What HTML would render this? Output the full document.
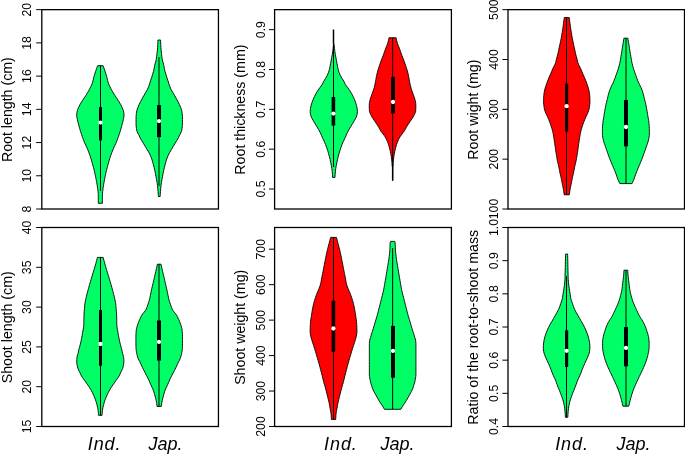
<!DOCTYPE html>
<html lang="en"><head><meta charset="utf-8"><title>Violin plots</title>
<style>
html,body{margin:0;padding:0;background:#fff;}
body{width:685px;height:456px;overflow:hidden;}
svg{display:block;will-change:transform;}
text{font-family:"Liberation Sans",sans-serif;fill:#000;}
.tk{font-size:12.3px;text-anchor:middle;}
.lb{font-size:14.2px;text-anchor:middle;}
.xl{font-size:18px;font-style:italic;text-anchor:start;}
.fr{fill:none;stroke:#000;stroke-width:1.3;}
.ln{stroke:#000;stroke-width:1.3;fill:none;}
.tl{stroke:#000;stroke-width:1;fill:none;}
.vi{stroke:#000;stroke-width:0.9;stroke-linejoin:miter;}
.wh{stroke:#000;stroke-width:1;}
.wh2{stroke:#000;stroke-width:1.5;}
.bx{fill:#000;}
.md{fill:#fff;}
</style></head><body>
<svg width="685" height="456" viewBox="0 0 685 456">
<rect x="0" y="0" width="685" height="456" fill="#fff"/>
<rect class="fr" x="41.80" y="9.65" width="176.65" height="199.35"/>
<line class="tl" x1="36.20" y1="209.00" x2="41.80" y2="209.00"/>
<text class="tk" transform="translate(30.70 209.00) rotate(-90)">8</text>
<line class="tl" x1="36.20" y1="175.78" x2="41.80" y2="175.78"/>
<text class="tk" transform="translate(30.70 175.78) rotate(-90)">10</text>
<line class="tl" x1="36.20" y1="142.55" x2="41.80" y2="142.55"/>
<text class="tk" transform="translate(30.70 142.55) rotate(-90)">12</text>
<line class="tl" x1="36.20" y1="109.33" x2="41.80" y2="109.33"/>
<text class="tk" transform="translate(30.70 109.33) rotate(-90)">14</text>
<line class="tl" x1="36.20" y1="76.10" x2="41.80" y2="76.10"/>
<text class="tk" transform="translate(30.70 76.10) rotate(-90)">16</text>
<line class="tl" x1="36.20" y1="42.88" x2="41.80" y2="42.88"/>
<text class="tk" transform="translate(30.70 42.88) rotate(-90)">18</text>
<line class="tl" x1="36.20" y1="9.65" x2="41.80" y2="9.65"/>
<text class="tk" transform="translate(30.70 9.65) rotate(-90)">20</text>
<text class="lb" transform="translate(12.10 109.62) rotate(-90)">Root length (cm)</text>
<rect class="fr" x="274.60" y="9.65" width="176.80" height="199.35"/>
<line class="tl" x1="269.00" y1="189.01" x2="274.60" y2="189.01"/>
<text class="tk" transform="translate(264.90 189.01) rotate(-90)">0.5</text>
<line class="tl" x1="269.00" y1="149.17" x2="274.60" y2="149.17"/>
<text class="tk" transform="translate(264.90 149.17) rotate(-90)">0.6</text>
<line class="tl" x1="269.00" y1="109.33" x2="274.60" y2="109.33"/>
<text class="tk" transform="translate(264.90 109.33) rotate(-90)">0.7</text>
<line class="tl" x1="269.00" y1="69.49" x2="274.60" y2="69.49"/>
<text class="tk" transform="translate(264.90 69.49) rotate(-90)">0.8</text>
<line class="tl" x1="269.00" y1="29.65" x2="274.60" y2="29.65"/>
<text class="tk" transform="translate(264.90 29.65) rotate(-90)">0.9</text>
<text class="lb" transform="translate(244.95 109.62) rotate(-90)">Root thickness (mm)</text>
<rect class="fr" x="508.00" y="9.65" width="176.50" height="199.35"/>
<line class="tl" x1="502.40" y1="209.00" x2="508.00" y2="209.00"/>
<text class="tk" transform="translate(497.60 209.00) rotate(-90)">100</text>
<line class="tl" x1="502.40" y1="159.16" x2="508.00" y2="159.16"/>
<text class="tk" transform="translate(497.60 159.16) rotate(-90)">200</text>
<line class="tl" x1="502.40" y1="109.33" x2="508.00" y2="109.33"/>
<text class="tk" transform="translate(497.60 109.33) rotate(-90)">300</text>
<line class="tl" x1="502.40" y1="59.49" x2="508.00" y2="59.49"/>
<text class="tk" transform="translate(497.60 59.49) rotate(-90)">400</text>
<line class="tl" x1="502.40" y1="9.65" x2="508.00" y2="9.65"/>
<text class="tk" transform="translate(497.60 9.65) rotate(-90)">500</text>
<text class="lb" transform="translate(478.00 109.62) rotate(-90)">Root wight (mg)</text>
<rect class="fr" x="41.80" y="227.50" width="176.65" height="199.00"/>
<line class="tl" x1="36.20" y1="426.50" x2="41.80" y2="426.50"/>
<text class="tk" transform="translate(30.70 426.50) rotate(-90)">15</text>
<line class="tl" x1="36.20" y1="386.70" x2="41.80" y2="386.70"/>
<text class="tk" transform="translate(30.70 386.70) rotate(-90)">20</text>
<line class="tl" x1="36.20" y1="346.90" x2="41.80" y2="346.90"/>
<text class="tk" transform="translate(30.70 346.90) rotate(-90)">25</text>
<line class="tl" x1="36.20" y1="307.10" x2="41.80" y2="307.10"/>
<text class="tk" transform="translate(30.70 307.10) rotate(-90)">30</text>
<line class="tl" x1="36.20" y1="267.30" x2="41.80" y2="267.30"/>
<text class="tk" transform="translate(30.70 267.30) rotate(-90)">35</text>
<line class="tl" x1="36.20" y1="227.50" x2="41.80" y2="227.50"/>
<text class="tk" transform="translate(30.70 227.50) rotate(-90)">40</text>
<text class="lb" transform="translate(12.10 327.30) rotate(-90)">Shoot length (cm)</text>
<rect class="fr" x="274.60" y="227.50" width="176.80" height="199.00"/>
<line class="tl" x1="269.00" y1="426.50" x2="274.60" y2="426.50"/>
<text class="tk" transform="translate(264.90 426.50) rotate(-90)">200</text>
<line class="tl" x1="269.00" y1="391.04" x2="274.60" y2="391.04"/>
<text class="tk" transform="translate(264.90 391.04) rotate(-90)">300</text>
<line class="tl" x1="269.00" y1="355.58" x2="274.60" y2="355.58"/>
<text class="tk" transform="translate(264.90 355.58) rotate(-90)">400</text>
<line class="tl" x1="269.00" y1="320.12" x2="274.60" y2="320.12"/>
<text class="tk" transform="translate(264.90 320.12) rotate(-90)">500</text>
<line class="tl" x1="269.00" y1="284.66" x2="274.60" y2="284.66"/>
<text class="tk" transform="translate(264.90 284.66) rotate(-90)">600</text>
<line class="tl" x1="269.00" y1="249.20" x2="274.60" y2="249.20"/>
<text class="tk" transform="translate(264.90 249.20) rotate(-90)">700</text>
<text class="lb" transform="translate(244.95 327.30) rotate(-90)">Shoot weight (mg)</text>
<rect class="fr" x="508.00" y="227.50" width="176.50" height="199.00"/>
<line class="tl" x1="502.40" y1="426.50" x2="508.00" y2="426.50"/>
<text class="tk" transform="translate(497.60 426.50) rotate(-90)">0.4</text>
<line class="tl" x1="502.40" y1="393.33" x2="508.00" y2="393.33"/>
<text class="tk" transform="translate(497.60 393.33) rotate(-90)">0.5</text>
<line class="tl" x1="502.40" y1="360.17" x2="508.00" y2="360.17"/>
<text class="tk" transform="translate(497.60 360.17) rotate(-90)">0.6</text>
<line class="tl" x1="502.40" y1="327.00" x2="508.00" y2="327.00"/>
<text class="tk" transform="translate(497.60 327.00) rotate(-90)">0.7</text>
<line class="tl" x1="502.40" y1="293.83" x2="508.00" y2="293.83"/>
<text class="tk" transform="translate(497.60 293.83) rotate(-90)">0.8</text>
<line class="tl" x1="502.40" y1="260.67" x2="508.00" y2="260.67"/>
<text class="tk" transform="translate(497.60 260.67) rotate(-90)">0.9</text>
<line class="tl" x1="502.40" y1="227.50" x2="508.00" y2="227.50"/>
<text class="tk" transform="translate(497.60 227.50) rotate(-90)">1.0</text>
<text class="lb" transform="translate(478.00 327.30) rotate(-90)">Ratio of the root-to-shoot mass</text>
<path class="vi" fill="#00ff66" d="M97.65 65.70 L97.08 67.20 L96.53 68.70 L96.01 70.20 L95.50 71.70 L95.01 73.20 L94.55 74.70 L94.10 76.20 L93.69 77.70 L93.35 79.20 L93.01 80.70 L92.63 82.20 L92.13 83.70 L91.49 85.20 L90.76 86.70 L90.00 88.20 L89.23 89.70 L88.41 91.20 L87.55 92.70 L86.65 94.20 L85.69 95.70 L84.66 97.20 L83.63 98.70 L82.66 100.20 L81.71 101.70 L80.79 103.20 L79.93 104.70 L79.15 106.20 L78.47 107.70 L77.86 109.20 L77.33 110.70 L76.98 112.20 L76.72 113.70 L76.66 115.20 L76.82 116.70 L77.11 118.20 L77.41 119.70 L77.74 121.20 L78.11 122.70 L78.51 124.20 L78.91 125.70 L79.31 127.20 L79.73 128.70 L80.17 130.20 L80.63 131.70 L81.12 133.20 L81.62 134.70 L82.15 136.20 L82.67 137.70 L83.20 139.20 L83.76 140.70 L84.35 142.20 L85.01 143.70 L85.74 145.20 L86.46 146.70 L87.13 148.20 L87.74 149.70 L88.33 151.20 L88.91 152.70 L89.48 154.20 L90.05 155.70 L90.54 157.20 L90.99 158.70 L91.42 160.20 L91.85 161.70 L92.28 163.20 L92.71 164.70 L93.13 166.20 L93.53 167.70 L93.92 169.20 L94.29 170.70 L94.65 172.20 L94.98 173.70 L95.29 175.20 L95.59 176.70 L95.88 178.20 L96.17 179.70 L96.46 181.20 L96.74 182.70 L97.00 184.20 L97.24 185.70 L97.46 187.20 L97.66 188.70 L97.85 190.20 L98.05 191.70 L98.21 193.20 L98.26 194.70 L98.27 196.20 L98.28 197.70 L98.29 199.20 L98.30 200.70 L98.30 202.20 L98.30 203.30 L102.40 203.30 L102.40 202.20 L102.40 200.70 L102.41 199.20 L102.42 197.70 L102.43 196.20 L102.44 194.70 L102.49 193.20 L102.65 191.70 L102.85 190.20 L103.04 188.70 L103.24 187.20 L103.46 185.70 L103.70 184.20 L103.96 182.70 L104.24 181.20 L104.53 179.70 L104.82 178.20 L105.11 176.70 L105.41 175.20 L105.72 173.70 L106.05 172.20 L106.41 170.70 L106.78 169.20 L107.17 167.70 L107.57 166.20 L107.99 164.70 L108.42 163.20 L108.85 161.70 L109.28 160.20 L109.71 158.70 L110.16 157.20 L110.65 155.70 L111.22 154.20 L111.79 152.70 L112.37 151.20 L112.96 149.70 L113.57 148.20 L114.24 146.70 L114.96 145.20 L115.69 143.70 L116.35 142.20 L116.94 140.70 L117.50 139.20 L118.03 137.70 L118.55 136.20 L119.08 134.70 L119.58 133.20 L120.07 131.70 L120.53 130.20 L120.97 128.70 L121.39 127.20 L121.79 125.70 L122.19 124.20 L122.59 122.70 L122.96 121.20 L123.29 119.70 L123.59 118.20 L123.88 116.70 L124.04 115.20 L123.98 113.70 L123.72 112.20 L123.37 110.70 L122.84 109.20 L122.23 107.70 L121.55 106.20 L120.77 104.70 L119.91 103.20 L118.99 101.70 L118.04 100.20 L117.07 98.70 L116.04 97.20 L115.01 95.70 L114.05 94.20 L113.15 92.70 L112.29 91.20 L111.47 89.70 L110.70 88.20 L109.94 86.70 L109.21 85.20 L108.57 83.70 L108.07 82.20 L107.69 80.70 L107.35 79.20 L107.01 77.70 L106.60 76.20 L106.15 74.70 L105.69 73.20 L105.20 71.70 L104.69 70.20 L104.17 68.70 L103.62 67.20 L103.05 65.70Z"/>
<line class="wh" x1="100.50" y1="65.70" x2="100.50" y2="191.00"/>
<rect class="bx" x="99.00" y="107.20" width="3.00" height="33.20"/>
<circle class="md" cx="100.50" cy="122.60" r="2.15"/>
<path class="vi" fill="#00ff66" d="M157.95 40.00 L157.91 41.50 L157.85 43.00 L157.77 44.50 L157.69 46.00 L157.59 47.50 L157.48 49.00 L157.33 50.50 L157.17 52.00 L157.01 53.50 L156.85 55.00 L156.68 56.50 L156.47 58.00 L156.22 59.50 L155.85 61.00 L155.42 62.50 L155.02 64.00 L154.69 65.50 L154.40 67.00 L154.11 68.50 L153.80 70.00 L153.43 71.50 L153.01 73.00 L152.57 74.50 L152.12 76.00 L151.63 77.50 L151.12 79.00 L150.60 80.50 L150.13 82.00 L149.71 83.50 L149.21 85.00 L148.64 86.50 L148.02 88.00 L147.34 89.50 L146.57 91.00 L145.69 92.50 L144.77 94.00 L143.89 95.50 L143.05 97.00 L142.22 98.50 L141.42 100.00 L140.65 101.50 L139.88 103.00 L139.13 104.50 L138.46 106.00 L137.89 107.50 L137.34 109.00 L136.86 110.50 L136.52 112.00 L136.34 113.50 L136.20 115.00 L136.10 116.50 L136.05 118.00 L136.05 119.50 L136.05 121.00 L136.05 122.50 L136.05 124.00 L136.11 125.50 L136.27 127.00 L136.48 128.50 L136.72 130.00 L137.09 131.50 L137.71 133.00 L138.62 134.50 L139.35 136.00 L139.96 137.50 L140.73 139.00 L141.64 140.50 L142.58 142.00 L143.51 143.50 L144.41 145.00 L145.31 146.50 L146.21 148.00 L147.08 149.50 L147.97 151.00 L148.85 152.50 L149.66 154.00 L150.36 155.50 L150.99 157.00 L151.57 158.50 L152.09 160.00 L152.56 161.50 L152.98 163.00 L153.37 164.50 L153.75 166.00 L154.12 167.50 L154.48 169.00 L154.82 170.50 L155.13 172.00 L155.42 173.50 L155.69 175.00 L155.95 176.50 L156.23 178.00 L156.53 179.50 L156.82 181.00 L157.07 182.50 L157.29 184.00 L157.48 185.50 L157.65 187.00 L157.80 188.50 L157.93 190.00 L158.05 191.50 L158.16 193.00 L158.25 194.50 L158.33 196.00 L158.35 196.50 L160.15 196.50 L160.17 196.00 L160.25 194.50 L160.34 193.00 L160.45 191.50 L160.57 190.00 L160.70 188.50 L160.85 187.00 L161.02 185.50 L161.21 184.00 L161.43 182.50 L161.68 181.00 L161.97 179.50 L162.27 178.00 L162.55 176.50 L162.81 175.00 L163.08 173.50 L163.37 172.00 L163.68 170.50 L164.02 169.00 L164.38 167.50 L164.75 166.00 L165.13 164.50 L165.52 163.00 L165.94 161.50 L166.41 160.00 L166.93 158.50 L167.51 157.00 L168.14 155.50 L168.84 154.00 L169.65 152.50 L170.53 151.00 L171.42 149.50 L172.29 148.00 L173.19 146.50 L174.09 145.00 L174.99 143.50 L175.92 142.00 L176.86 140.50 L177.77 139.00 L178.54 137.50 L179.15 136.00 L179.88 134.50 L180.79 133.00 L181.41 131.50 L181.78 130.00 L182.02 128.50 L182.23 127.00 L182.39 125.50 L182.45 124.00 L182.45 122.50 L182.45 121.00 L182.45 119.50 L182.45 118.00 L182.40 116.50 L182.30 115.00 L182.16 113.50 L181.98 112.00 L181.64 110.50 L181.16 109.00 L180.61 107.50 L180.04 106.00 L179.37 104.50 L178.62 103.00 L177.85 101.50 L177.08 100.00 L176.28 98.50 L175.45 97.00 L174.61 95.50 L173.73 94.00 L172.81 92.50 L171.93 91.00 L171.16 89.50 L170.48 88.00 L169.86 86.50 L169.29 85.00 L168.79 83.50 L168.37 82.00 L167.90 80.50 L167.38 79.00 L166.87 77.50 L166.38 76.00 L165.93 74.50 L165.49 73.00 L165.07 71.50 L164.70 70.00 L164.39 68.50 L164.10 67.00 L163.81 65.50 L163.48 64.00 L163.08 62.50 L162.65 61.00 L162.28 59.50 L162.03 58.00 L161.82 56.50 L161.65 55.00 L161.49 53.50 L161.33 52.00 L161.17 50.50 L161.02 49.00 L160.91 47.50 L160.81 46.00 L160.73 44.50 L160.65 43.00 L160.59 41.50 L160.55 40.00Z"/>
<line class="wh" x1="159.00" y1="57.10" x2="159.00" y2="186.00"/>
<rect class="bx" x="157.00" y="105.10" width="4.00" height="32.00"/>
<circle class="md" cx="159.00" cy="121.10" r="2.15"/>
<path class="vi" fill="#00ff66" d="M333.50 44.00 L333.38 45.50 L333.24 47.00 L333.08 48.50 L332.91 50.00 L332.72 51.50 L332.51 53.00 L332.27 54.50 L331.99 56.00 L331.70 57.50 L331.41 59.00 L331.14 60.50 L330.87 62.00 L330.59 63.50 L330.30 65.00 L330.02 66.50 L329.72 68.00 L329.38 69.50 L328.97 71.00 L328.45 72.50 L327.85 74.00 L327.19 75.50 L326.42 77.00 L325.49 78.50 L324.52 80.00 L323.65 81.50 L322.98 83.00 L322.20 84.50 L321.09 86.00 L319.96 87.50 L318.88 89.00 L317.88 90.50 L316.93 92.00 L316.03 93.50 L315.21 95.00 L314.46 96.50 L313.75 98.00 L313.11 99.50 L312.54 101.00 L312.01 102.50 L311.51 104.00 L311.08 105.50 L310.76 107.00 L310.49 108.50 L310.28 110.00 L310.20 111.50 L310.32 113.00 L310.58 114.50 L310.92 116.00 L311.51 117.50 L312.33 119.00 L313.20 120.50 L314.05 122.00 L314.96 123.50 L315.88 125.00 L316.78 126.50 L317.68 128.00 L318.58 129.50 L319.43 131.00 L320.19 132.50 L320.87 134.00 L321.50 135.50 L322.14 137.00 L322.82 138.50 L323.54 140.00 L324.26 141.50 L324.93 143.00 L325.54 144.50 L326.12 146.00 L326.66 147.50 L327.17 149.00 L327.65 150.50 L328.11 152.00 L328.54 153.50 L328.95 155.00 L329.35 156.50 L329.72 158.00 L330.07 159.50 L330.41 161.00 L330.74 162.50 L331.05 164.00 L331.33 165.50 L331.58 167.00 L331.82 168.50 L332.04 170.00 L332.21 171.50 L332.34 173.00 L332.46 174.50 L332.55 176.00 L332.60 177.40 L335.00 177.40 L335.05 176.00 L335.14 174.50 L335.26 173.00 L335.39 171.50 L335.56 170.00 L335.78 168.50 L336.02 167.00 L336.27 165.50 L336.55 164.00 L336.86 162.50 L337.19 161.00 L337.53 159.50 L337.88 158.00 L338.25 156.50 L338.65 155.00 L339.06 153.50 L339.49 152.00 L339.95 150.50 L340.43 149.00 L340.94 147.50 L341.48 146.00 L342.06 144.50 L342.67 143.00 L343.34 141.50 L344.06 140.00 L344.78 138.50 L345.46 137.00 L346.10 135.50 L346.73 134.00 L347.41 132.50 L348.17 131.00 L349.02 129.50 L349.92 128.00 L350.82 126.50 L351.72 125.00 L352.64 123.50 L353.55 122.00 L354.40 120.50 L355.27 119.00 L356.09 117.50 L356.68 116.00 L357.02 114.50 L357.28 113.00 L357.40 111.50 L357.32 110.00 L357.11 108.50 L356.84 107.00 L356.52 105.50 L356.09 104.00 L355.59 102.50 L355.06 101.00 L354.49 99.50 L353.85 98.00 L353.14 96.50 L352.39 95.00 L351.57 93.50 L350.67 92.00 L349.72 90.50 L348.72 89.00 L347.64 87.50 L346.51 86.00 L345.40 84.50 L344.62 83.00 L343.95 81.50 L343.08 80.00 L342.11 78.50 L341.18 77.00 L340.41 75.50 L339.75 74.00 L339.15 72.50 L338.63 71.00 L338.22 69.50 L337.88 68.00 L337.58 66.50 L337.30 65.00 L337.01 63.50 L336.73 62.00 L336.46 60.50 L336.19 59.00 L335.90 57.50 L335.61 56.00 L335.33 54.50 L335.09 53.00 L334.88 51.50 L334.69 50.00 L334.52 48.50 L334.36 47.00 L334.22 45.50 L334.10 44.00Z"/>
<line class="wh" x1="333.50" y1="29.70" x2="333.50" y2="167.00"/>
<line class="wh2" x1="333.50" y1="29.70" x2="333.50" y2="44.00"/>
<rect class="bx" x="331.60" y="97.10" width="3.60" height="28.50"/>
<circle class="md" cx="333.40" cy="113.60" r="2.15"/>
<path class="vi" fill="#ff0000" d="M388.95 37.80 L388.69 39.30 L388.36 40.80 L387.97 42.30 L387.53 43.80 L386.98 45.30 L386.35 46.80 L385.74 48.30 L385.19 49.80 L384.67 51.30 L384.15 52.80 L383.62 54.30 L383.06 55.80 L382.47 57.30 L381.88 58.80 L381.31 60.30 L380.77 61.80 L380.24 63.30 L379.72 64.80 L379.22 66.30 L378.71 67.80 L378.23 69.30 L377.77 70.80 L377.37 72.30 L377.00 73.80 L376.66 75.30 L376.35 76.80 L376.07 78.30 L375.82 79.80 L375.57 81.30 L375.29 82.80 L374.98 84.30 L374.63 85.80 L374.26 87.30 L373.83 88.80 L373.34 90.30 L372.81 91.80 L372.28 93.30 L371.74 94.80 L371.15 96.30 L370.62 97.80 L370.20 99.30 L369.84 100.80 L369.51 102.30 L369.30 103.80 L369.25 105.30 L369.26 106.80 L369.29 108.30 L369.33 109.80 L369.44 111.30 L369.90 112.80 L370.59 114.30 L371.35 115.80 L372.15 117.30 L373.11 118.80 L374.16 120.30 L375.18 121.80 L376.18 123.30 L377.20 124.80 L378.18 126.30 L379.06 127.80 L379.78 129.30 L380.65 130.80 L381.74 132.30 L382.85 133.80 L384.00 135.30 L385.05 136.80 L385.90 138.30 L386.65 139.80 L387.31 141.30 L387.89 142.80 L388.41 144.30 L388.88 145.80 L389.31 147.30 L389.70 148.80 L390.07 150.30 L390.40 151.80 L390.69 153.30 L390.96 154.80 L391.20 156.30 L391.41 157.80 L391.59 159.30 L391.74 160.80 L391.88 162.30 L392.01 163.80 L392.15 165.30 L392.25 166.50 L392.85 166.50 L392.95 165.30 L393.09 163.80 L393.22 162.30 L393.36 160.80 L393.51 159.30 L393.69 157.80 L393.90 156.30 L394.14 154.80 L394.41 153.30 L394.70 151.80 L395.03 150.30 L395.40 148.80 L395.79 147.30 L396.22 145.80 L396.69 144.30 L397.21 142.80 L397.79 141.30 L398.45 139.80 L399.20 138.30 L400.05 136.80 L401.10 135.30 L402.25 133.80 L403.36 132.30 L404.45 130.80 L405.32 129.30 L406.04 127.80 L406.92 126.30 L407.90 124.80 L408.92 123.30 L409.92 121.80 L410.94 120.30 L411.99 118.80 L412.95 117.30 L413.75 115.80 L414.51 114.30 L415.20 112.80 L415.66 111.30 L415.77 109.80 L415.81 108.30 L415.84 106.80 L415.85 105.30 L415.80 103.80 L415.59 102.30 L415.26 100.80 L414.90 99.30 L414.48 97.80 L413.95 96.30 L413.36 94.80 L412.82 93.30 L412.29 91.80 L411.76 90.30 L411.27 88.80 L410.84 87.30 L410.47 85.80 L410.12 84.30 L409.81 82.80 L409.53 81.30 L409.28 79.80 L409.03 78.30 L408.75 76.80 L408.44 75.30 L408.10 73.80 L407.73 72.30 L407.33 70.80 L406.87 69.30 L406.39 67.80 L405.88 66.30 L405.38 64.80 L404.86 63.30 L404.33 61.80 L403.79 60.30 L403.22 58.80 L402.63 57.30 L402.04 55.80 L401.48 54.30 L400.95 52.80 L400.43 51.30 L399.91 49.80 L399.36 48.30 L398.75 46.80 L398.12 45.30 L397.57 43.80 L397.13 42.30 L396.74 40.80 L396.41 39.30 L396.15 37.80Z"/>
<line class="wh" x1="392.65" y1="37.80" x2="392.65" y2="180.70"/>
<line class="wh2" x1="392.65" y1="164.00" x2="392.65" y2="180.70"/>
<rect class="bx" x="391.00" y="77.10" width="4.00" height="36.30"/>
<circle class="md" cx="393.00" cy="102.00" r="2.15"/>
<path class="vi" fill="#ff0000" d="M564.25 17.60 L564.07 19.10 L563.89 20.60 L563.69 22.10 L563.50 23.60 L563.29 25.10 L563.08 26.60 L562.86 28.10 L562.63 29.60 L562.40 31.10 L562.16 32.60 L561.92 34.10 L561.66 35.60 L561.39 37.10 L561.11 38.60 L560.80 40.10 L560.49 41.60 L560.17 43.10 L559.84 44.60 L559.51 46.10 L559.18 47.60 L558.86 49.10 L558.55 50.60 L558.25 52.10 L557.92 53.60 L557.55 55.10 L557.14 56.60 L556.73 58.10 L556.35 59.60 L556.05 61.10 L555.67 62.60 L555.09 64.10 L554.40 65.60 L553.56 67.10 L552.83 68.60 L552.20 70.10 L551.59 71.60 L550.98 73.10 L550.32 74.60 L549.65 76.10 L548.98 77.60 L548.35 79.10 L547.76 80.60 L547.19 82.10 L546.66 83.60 L546.15 85.10 L545.64 86.60 L545.16 88.10 L544.75 89.60 L544.44 91.10 L544.17 92.60 L543.95 94.10 L543.79 95.60 L543.70 97.10 L543.63 98.60 L543.58 100.10 L543.55 101.60 L543.59 103.10 L543.73 104.60 L543.93 106.10 L544.15 107.60 L544.43 109.10 L544.82 110.60 L545.36 112.10 L545.98 113.60 L546.75 115.10 L547.46 116.60 L548.12 118.10 L548.74 119.60 L549.33 121.10 L549.90 122.60 L550.45 124.10 L550.97 125.60 L551.45 127.10 L551.90 128.60 L552.34 130.10 L552.73 131.60 L553.06 133.10 L553.34 134.60 L553.58 136.10 L553.81 137.60 L554.05 139.10 L554.29 140.60 L554.53 142.10 L554.76 143.60 L554.97 145.10 L555.17 146.60 L555.36 148.10 L555.56 149.60 L555.78 151.10 L556.01 152.60 L556.25 154.10 L556.50 155.60 L556.75 157.10 L557.00 158.60 L557.27 160.10 L557.56 161.60 L557.90 163.10 L558.27 164.60 L558.63 166.10 L558.95 167.60 L559.24 169.10 L559.52 170.60 L559.81 172.10 L560.12 173.60 L560.47 175.10 L560.82 176.60 L561.16 178.10 L561.47 179.60 L561.76 181.10 L562.04 182.60 L562.33 184.10 L562.64 185.60 L562.96 187.10 L563.27 188.60 L563.53 190.10 L563.76 191.60 L563.96 193.10 L564.13 194.60 L564.15 194.80 L569.35 194.80 L569.37 194.60 L569.54 193.10 L569.74 191.60 L569.97 190.10 L570.23 188.60 L570.54 187.10 L570.86 185.60 L571.17 184.10 L571.46 182.60 L571.74 181.10 L572.03 179.60 L572.34 178.10 L572.68 176.60 L573.03 175.10 L573.38 173.60 L573.69 172.10 L573.98 170.60 L574.26 169.10 L574.55 167.60 L574.87 166.10 L575.23 164.60 L575.60 163.10 L575.94 161.60 L576.23 160.10 L576.50 158.60 L576.75 157.10 L577.00 155.60 L577.25 154.10 L577.49 152.60 L577.72 151.10 L577.94 149.60 L578.14 148.10 L578.33 146.60 L578.53 145.10 L578.74 143.60 L578.97 142.10 L579.21 140.60 L579.45 139.10 L579.69 137.60 L579.92 136.10 L580.16 134.60 L580.44 133.10 L580.77 131.60 L581.16 130.10 L581.60 128.60 L582.05 127.10 L582.53 125.60 L583.05 124.10 L583.60 122.60 L584.17 121.10 L584.76 119.60 L585.38 118.10 L586.04 116.60 L586.75 115.10 L587.52 113.60 L588.14 112.10 L588.68 110.60 L589.07 109.10 L589.35 107.60 L589.57 106.10 L589.77 104.60 L589.91 103.10 L589.95 101.60 L589.92 100.10 L589.87 98.60 L589.80 97.10 L589.71 95.60 L589.55 94.10 L589.33 92.60 L589.06 91.10 L588.75 89.60 L588.34 88.10 L587.86 86.60 L587.35 85.10 L586.84 83.60 L586.31 82.10 L585.74 80.60 L585.15 79.10 L584.52 77.60 L583.85 76.10 L583.18 74.60 L582.52 73.10 L581.91 71.60 L581.30 70.10 L580.67 68.60 L579.94 67.10 L579.10 65.60 L578.41 64.10 L577.83 62.60 L577.45 61.10 L577.15 59.60 L576.77 58.10 L576.36 56.60 L575.95 55.10 L575.58 53.60 L575.25 52.10 L574.95 50.60 L574.64 49.10 L574.32 47.60 L573.99 46.10 L573.66 44.60 L573.33 43.10 L573.01 41.60 L572.70 40.10 L572.39 38.60 L572.11 37.10 L571.84 35.60 L571.58 34.10 L571.34 32.60 L571.10 31.10 L570.87 29.60 L570.64 28.10 L570.42 26.60 L570.21 25.10 L570.00 23.60 L569.81 22.10 L569.61 20.60 L569.43 19.10 L569.25 17.60Z"/>
<line class="wh" x1="566.50" y1="17.60" x2="566.50" y2="194.80"/>
<rect class="bx" x="565.00" y="83.70" width="3.20" height="47.80"/>
<circle class="md" cx="566.60" cy="106.20" r="2.15"/>
<path class="vi" fill="#00ff66" d="M623.90 38.20 L623.66 39.70 L623.42 41.20 L623.18 42.70 L622.94 44.20 L622.70 45.70 L622.47 47.20 L622.23 48.70 L621.99 50.20 L621.75 51.70 L621.51 53.20 L621.26 54.70 L621.00 56.20 L620.75 57.70 L620.50 59.20 L620.25 60.70 L619.96 62.20 L619.63 63.70 L619.25 65.20 L618.84 66.70 L618.40 68.20 L617.94 69.70 L617.44 71.20 L616.92 72.70 L616.39 74.20 L615.85 75.70 L615.30 77.20 L614.74 78.70 L614.18 80.20 L613.62 81.70 L612.95 83.20 L612.20 84.70 L611.44 86.20 L610.70 87.70 L610.10 89.20 L609.55 90.70 L609.06 92.20 L608.61 93.70 L608.22 95.20 L607.86 96.70 L607.52 98.20 L607.15 99.70 L606.77 101.20 L606.39 102.70 L606.03 104.20 L605.72 105.70 L605.43 107.20 L605.16 108.70 L604.90 110.20 L604.64 111.70 L604.39 113.20 L604.14 114.70 L603.90 116.20 L603.65 117.70 L603.39 119.20 L603.15 120.70 L602.97 122.20 L602.80 123.70 L602.65 125.20 L602.54 126.70 L602.48 128.20 L602.44 129.70 L602.42 131.20 L602.40 132.70 L602.42 134.20 L602.55 135.70 L602.76 137.20 L603.02 138.70 L603.30 140.20 L603.71 141.70 L604.22 143.20 L604.76 144.70 L605.27 146.20 L605.79 147.70 L606.33 149.20 L606.86 150.70 L607.38 152.20 L607.90 153.70 L608.42 155.20 L608.96 156.70 L609.54 158.20 L610.14 159.70 L610.76 161.20 L611.38 162.70 L612.01 164.20 L612.65 165.70 L613.28 167.20 L613.91 168.70 L614.53 170.20 L615.14 171.70 L615.73 173.20 L616.29 174.70 L616.80 176.20 L617.30 177.70 L617.84 179.20 L618.46 180.70 L619.16 182.20 L619.85 183.60 L631.95 183.60 L632.64 182.20 L633.34 180.70 L633.96 179.20 L634.50 177.70 L635.00 176.20 L635.51 174.70 L636.07 173.20 L636.66 171.70 L637.27 170.20 L637.89 168.70 L638.52 167.20 L639.15 165.70 L639.79 164.20 L640.42 162.70 L641.04 161.20 L641.66 159.70 L642.26 158.20 L642.84 156.70 L643.38 155.20 L643.90 153.70 L644.42 152.20 L644.94 150.70 L645.47 149.20 L646.01 147.70 L646.53 146.20 L647.04 144.70 L647.58 143.20 L648.09 141.70 L648.50 140.20 L648.78 138.70 L649.04 137.20 L649.25 135.70 L649.38 134.20 L649.40 132.70 L649.38 131.20 L649.36 129.70 L649.32 128.20 L649.26 126.70 L649.15 125.20 L649.00 123.70 L648.83 122.20 L648.65 120.70 L648.41 119.20 L648.15 117.70 L647.90 116.20 L647.66 114.70 L647.41 113.20 L647.16 111.70 L646.90 110.20 L646.64 108.70 L646.37 107.20 L646.08 105.70 L645.77 104.20 L645.41 102.70 L645.03 101.20 L644.65 99.70 L644.28 98.20 L643.94 96.70 L643.58 95.20 L643.19 93.70 L642.74 92.20 L642.25 90.70 L641.70 89.20 L641.10 87.70 L640.36 86.20 L639.60 84.70 L638.85 83.20 L638.18 81.70 L637.62 80.20 L637.06 78.70 L636.50 77.20 L635.95 75.70 L635.41 74.20 L634.88 72.70 L634.36 71.20 L633.86 69.70 L633.40 68.20 L632.96 66.70 L632.55 65.20 L632.17 63.70 L631.84 62.20 L631.55 60.70 L631.30 59.20 L631.05 57.70 L630.80 56.20 L630.54 54.70 L630.29 53.20 L630.05 51.70 L629.81 50.20 L629.57 48.70 L629.33 47.20 L629.10 45.70 L628.86 44.20 L628.62 42.70 L628.38 41.20 L628.14 39.70 L627.90 38.20Z"/>
<line class="wh" x1="626.00" y1="38.20" x2="626.00" y2="183.60"/>
<rect class="bx" x="624.00" y="100.00" width="4.00" height="46.30"/>
<circle class="md" cx="626.00" cy="127.00" r="2.15"/>
<path class="vi" fill="#00ff66" d="M97.40 257.40 L97.03 258.90 L96.65 260.40 L96.26 261.90 L95.85 263.40 L95.44 264.90 L95.01 266.40 L94.57 267.90 L94.12 269.40 L93.66 270.90 L93.20 272.40 L92.74 273.90 L92.28 275.40 L91.82 276.90 L91.37 278.40 L90.92 279.90 L90.47 281.40 L90.03 282.90 L89.61 284.40 L89.19 285.90 L88.77 287.40 L88.36 288.90 L87.94 290.40 L87.52 291.90 L87.13 293.40 L86.76 294.90 L86.41 296.40 L86.07 297.90 L85.74 299.40 L85.42 300.90 L85.13 302.40 L84.87 303.90 L84.69 305.40 L84.60 306.90 L84.49 308.40 L84.35 309.90 L84.19 311.40 L84.07 312.90 L84.01 314.40 L83.97 315.90 L83.94 317.40 L83.90 318.90 L83.88 320.40 L83.86 321.90 L83.83 323.40 L83.80 324.90 L83.67 326.40 L83.45 327.90 L83.18 329.40 L82.94 330.90 L82.69 332.40 L82.42 333.90 L82.15 335.40 L81.87 336.90 L81.58 338.40 L81.28 339.90 L80.96 341.40 L80.62 342.90 L80.25 344.40 L79.86 345.90 L79.45 347.40 L79.00 348.90 L78.62 350.40 L78.37 351.90 L78.07 353.40 L77.53 354.90 L77.18 356.40 L76.96 357.90 L76.79 359.40 L76.71 360.90 L76.74 362.40 L76.91 363.90 L77.18 365.40 L77.51 366.90 L77.94 368.40 L78.59 369.90 L79.33 371.40 L80.04 372.90 L80.71 374.40 L81.45 375.90 L82.37 377.40 L83.44 378.90 L84.56 380.40 L85.64 381.90 L86.69 383.40 L87.75 384.90 L88.76 386.40 L89.71 387.90 L90.60 389.40 L91.45 390.90 L92.25 392.40 L92.99 393.90 L93.69 395.40 L94.35 396.90 L94.95 398.40 L95.50 399.90 L96.00 401.40 L96.46 402.90 L96.87 404.40 L97.25 405.90 L97.61 407.40 L97.91 408.90 L98.12 410.40 L98.28 411.90 L98.41 413.40 L98.49 414.90 L98.50 415.30 L102.10 415.30 L102.11 414.90 L102.19 413.40 L102.32 411.90 L102.48 410.40 L102.69 408.90 L102.99 407.40 L103.35 405.90 L103.73 404.40 L104.14 402.90 L104.60 401.40 L105.10 399.90 L105.65 398.40 L106.25 396.90 L106.91 395.40 L107.61 393.90 L108.35 392.40 L109.15 390.90 L110.00 389.40 L110.89 387.90 L111.84 386.40 L112.85 384.90 L113.91 383.40 L114.96 381.90 L116.04 380.40 L117.16 378.90 L118.23 377.40 L119.15 375.90 L119.89 374.40 L120.56 372.90 L121.27 371.40 L122.01 369.90 L122.66 368.40 L123.09 366.90 L123.42 365.40 L123.69 363.90 L123.86 362.40 L123.89 360.90 L123.81 359.40 L123.64 357.90 L123.42 356.40 L123.07 354.90 L122.53 353.40 L122.23 351.90 L121.98 350.40 L121.60 348.90 L121.15 347.40 L120.74 345.90 L120.35 344.40 L119.98 342.90 L119.64 341.40 L119.32 339.90 L119.02 338.40 L118.73 336.90 L118.45 335.40 L118.18 333.90 L117.91 332.40 L117.66 330.90 L117.42 329.40 L117.15 327.90 L116.93 326.40 L116.80 324.90 L116.77 323.40 L116.74 321.90 L116.72 320.40 L116.70 318.90 L116.66 317.40 L116.63 315.90 L116.59 314.40 L116.53 312.90 L116.41 311.40 L116.25 309.90 L116.11 308.40 L116.00 306.90 L115.91 305.40 L115.73 303.90 L115.47 302.40 L115.18 300.90 L114.86 299.40 L114.53 297.90 L114.19 296.40 L113.84 294.90 L113.47 293.40 L113.08 291.90 L112.66 290.40 L112.24 288.90 L111.83 287.40 L111.41 285.90 L110.99 284.40 L110.57 282.90 L110.13 281.40 L109.68 279.90 L109.23 278.40 L108.78 276.90 L108.32 275.40 L107.86 273.90 L107.40 272.40 L106.94 270.90 L106.48 269.40 L106.03 267.90 L105.59 266.40 L105.16 264.90 L104.75 263.40 L104.34 261.90 L103.95 260.40 L103.57 258.90 L103.20 257.40Z"/>
<line class="wh" x1="100.50" y1="257.40" x2="100.50" y2="415.30"/>
<rect class="bx" x="99.00" y="310.00" width="3.00" height="55.70"/>
<circle class="md" cx="100.50" cy="344.00" r="2.15"/>
<path class="vi" fill="#00ff66" d="M157.40 264.20 L157.08 265.70 L156.75 267.20 L156.41 268.70 L156.07 270.20 L155.73 271.70 L155.38 273.20 L155.02 274.70 L154.66 276.20 L154.31 277.70 L153.97 279.20 L153.63 280.70 L153.29 282.20 L152.94 283.70 L152.58 285.20 L152.22 286.70 L151.87 288.20 L151.54 289.70 L151.22 291.20 L150.91 292.70 L150.60 294.20 L150.30 295.70 L150.00 297.20 L149.69 298.70 L149.32 300.20 L148.86 301.70 L148.34 303.20 L147.81 304.70 L147.31 306.20 L146.82 307.70 L146.15 309.20 L145.29 310.70 L144.14 312.20 L142.80 313.70 L141.85 315.20 L141.03 316.70 L140.30 318.20 L139.61 319.70 L138.95 321.20 L138.33 322.70 L137.78 324.20 L137.33 325.70 L136.90 327.20 L136.53 328.70 L136.26 330.20 L136.13 331.70 L136.02 333.20 L135.94 334.70 L135.90 336.20 L135.90 337.70 L135.90 339.20 L135.90 340.70 L135.90 342.20 L135.91 343.70 L135.93 345.20 L135.97 346.70 L136.01 348.20 L136.15 349.70 L136.37 351.20 L136.64 352.70 L136.92 354.20 L137.27 355.70 L137.71 357.20 L138.25 358.70 L138.94 360.20 L139.75 361.70 L140.47 363.20 L141.15 364.70 L141.83 366.20 L142.55 367.70 L143.30 369.20 L144.07 370.70 L144.84 372.20 L145.61 373.70 L146.39 375.20 L147.16 376.70 L147.91 378.20 L148.61 379.70 L149.27 381.20 L149.92 382.70 L150.57 384.20 L151.26 385.70 L151.99 387.20 L152.69 388.70 L153.30 390.20 L153.81 391.70 L154.26 393.20 L154.68 394.70 L155.08 396.20 L155.49 397.70 L155.89 399.20 L156.23 400.70 L156.50 402.20 L156.72 403.70 L156.90 405.20 L157.00 406.40 L161.40 406.40 L161.50 405.20 L161.68 403.70 L161.90 402.20 L162.17 400.70 L162.51 399.20 L162.91 397.70 L163.32 396.20 L163.72 394.70 L164.14 393.20 L164.59 391.70 L165.10 390.20 L165.71 388.70 L166.41 387.20 L167.14 385.70 L167.83 384.20 L168.48 382.70 L169.13 381.20 L169.79 379.70 L170.49 378.20 L171.24 376.70 L172.01 375.20 L172.79 373.70 L173.56 372.20 L174.33 370.70 L175.10 369.20 L175.85 367.70 L176.57 366.20 L177.25 364.70 L177.93 363.20 L178.65 361.70 L179.46 360.20 L180.15 358.70 L180.69 357.20 L181.13 355.70 L181.48 354.20 L181.76 352.70 L182.03 351.20 L182.25 349.70 L182.39 348.20 L182.43 346.70 L182.47 345.20 L182.49 343.70 L182.50 342.20 L182.50 340.70 L182.50 339.20 L182.50 337.70 L182.50 336.20 L182.46 334.70 L182.38 333.20 L182.27 331.70 L182.14 330.20 L181.87 328.70 L181.50 327.20 L181.07 325.70 L180.62 324.20 L180.07 322.70 L179.45 321.20 L178.79 319.70 L178.10 318.20 L177.37 316.70 L176.55 315.20 L175.60 313.70 L174.26 312.20 L173.11 310.70 L172.25 309.20 L171.58 307.70 L171.09 306.20 L170.59 304.70 L170.06 303.20 L169.54 301.70 L169.08 300.20 L168.71 298.70 L168.40 297.20 L168.10 295.70 L167.80 294.20 L167.49 292.70 L167.18 291.20 L166.86 289.70 L166.53 288.20 L166.18 286.70 L165.82 285.20 L165.46 283.70 L165.11 282.20 L164.77 280.70 L164.43 279.20 L164.09 277.70 L163.74 276.20 L163.38 274.70 L163.02 273.20 L162.67 271.70 L162.33 270.20 L161.99 268.70 L161.65 267.20 L161.32 265.70 L161.00 264.20Z"/>
<line class="wh" x1="159.00" y1="264.20" x2="159.00" y2="406.40"/>
<rect class="bx" x="157.00" y="320.50" width="4.00" height="40.00"/>
<circle class="md" cx="159.00" cy="341.90" r="2.15"/>
<path class="vi" fill="#ff0000" d="M330.65 237.40 L330.25 238.90 L329.85 240.40 L329.46 241.90 L329.07 243.40 L328.68 244.90 L328.29 246.40 L327.90 247.90 L327.51 249.40 L327.15 250.90 L326.81 252.40 L326.49 253.90 L326.19 255.40 L325.88 256.90 L325.57 258.40 L325.27 259.90 L324.97 261.40 L324.67 262.90 L324.38 264.40 L324.09 265.90 L323.80 267.40 L323.52 268.90 L323.23 270.40 L322.94 271.90 L322.65 273.40 L322.35 274.90 L322.03 276.40 L321.71 277.90 L321.43 279.40 L321.22 280.90 L320.97 282.40 L320.61 283.90 L320.17 285.40 L319.65 286.90 L319.07 288.40 L318.44 289.90 L317.78 291.40 L317.15 292.90 L316.57 294.40 L316.02 295.90 L315.50 297.40 L315.01 298.90 L314.55 300.40 L314.11 301.90 L313.69 303.40 L313.33 304.90 L313.01 306.40 L312.71 307.90 L312.44 309.40 L312.18 310.90 L311.93 312.40 L311.70 313.90 L311.47 315.40 L311.24 316.90 L311.00 318.40 L310.77 319.90 L310.59 321.40 L310.48 322.90 L310.39 324.40 L310.32 325.90 L310.26 327.40 L310.20 328.90 L310.16 330.40 L310.16 331.90 L310.29 333.40 L310.52 334.90 L310.78 336.40 L311.16 337.90 L311.62 339.40 L312.10 340.90 L312.56 342.40 L313.05 343.90 L313.55 345.40 L314.04 346.90 L314.51 348.40 L314.97 349.90 L315.43 351.40 L315.88 352.90 L316.33 354.40 L316.78 355.90 L317.23 357.40 L317.67 358.90 L318.09 360.40 L318.52 361.90 L318.93 363.40 L319.34 364.90 L319.74 366.40 L320.13 367.90 L320.52 369.40 L320.92 370.90 L321.32 372.40 L321.71 373.90 L322.10 375.40 L322.46 376.90 L322.80 378.40 L323.15 379.90 L323.53 381.40 L323.95 382.90 L324.41 384.40 L324.84 385.90 L325.26 387.40 L325.67 388.90 L326.07 390.40 L326.45 391.90 L326.83 393.40 L327.19 394.90 L327.55 396.40 L327.93 397.90 L328.31 399.40 L328.69 400.90 L329.03 402.40 L329.32 403.90 L329.58 405.40 L329.83 406.90 L330.09 408.40 L330.38 409.90 L330.68 411.40 L330.94 412.90 L331.09 414.40 L331.21 415.90 L331.30 417.40 L331.35 418.90 L331.35 419.40 L335.75 419.40 L335.75 418.90 L335.80 417.40 L335.89 415.90 L336.01 414.40 L336.16 412.90 L336.42 411.40 L336.72 409.90 L337.01 408.40 L337.27 406.90 L337.52 405.40 L337.78 403.90 L338.07 402.40 L338.41 400.90 L338.79 399.40 L339.17 397.90 L339.55 396.40 L339.91 394.90 L340.27 393.40 L340.65 391.90 L341.03 390.40 L341.43 388.90 L341.84 387.40 L342.26 385.90 L342.69 384.40 L343.15 382.90 L343.57 381.40 L343.95 379.90 L344.30 378.40 L344.64 376.90 L345.00 375.40 L345.39 373.90 L345.78 372.40 L346.18 370.90 L346.58 369.40 L346.97 367.90 L347.36 366.40 L347.76 364.90 L348.17 363.40 L348.58 361.90 L349.01 360.40 L349.43 358.90 L349.87 357.40 L350.32 355.90 L350.77 354.40 L351.22 352.90 L351.67 351.40 L352.13 349.90 L352.59 348.40 L353.06 346.90 L353.55 345.40 L354.05 343.90 L354.54 342.40 L355.00 340.90 L355.48 339.40 L355.94 337.90 L356.32 336.40 L356.58 334.90 L356.81 333.40 L356.94 331.90 L356.94 330.40 L356.90 328.90 L356.84 327.40 L356.78 325.90 L356.71 324.40 L356.62 322.90 L356.51 321.40 L356.33 319.90 L356.10 318.40 L355.86 316.90 L355.63 315.40 L355.40 313.90 L355.17 312.40 L354.92 310.90 L354.66 309.40 L354.39 307.90 L354.09 306.40 L353.77 304.90 L353.41 303.40 L352.99 301.90 L352.55 300.40 L352.09 298.90 L351.60 297.40 L351.08 295.90 L350.53 294.40 L349.95 292.90 L349.32 291.40 L348.66 289.90 L348.03 288.40 L347.45 286.90 L346.93 285.40 L346.49 283.90 L346.13 282.40 L345.88 280.90 L345.67 279.40 L345.39 277.90 L345.07 276.40 L344.75 274.90 L344.45 273.40 L344.16 271.90 L343.87 270.40 L343.58 268.90 L343.30 267.40 L343.01 265.90 L342.72 264.40 L342.43 262.90 L342.13 261.40 L341.83 259.90 L341.53 258.40 L341.22 256.90 L340.91 255.40 L340.61 253.90 L340.29 252.40 L339.95 250.90 L339.59 249.40 L339.20 247.90 L338.81 246.40 L338.42 244.90 L338.03 243.40 L337.64 241.90 L337.25 240.40 L336.85 238.90 L336.45 237.40Z"/>
<line class="wh" x1="333.50" y1="237.40" x2="333.50" y2="419.40"/>
<rect class="bx" x="331.60" y="300.80" width="3.60" height="50.90"/>
<circle class="md" cx="333.40" cy="328.50" r="2.15"/>
<path class="vi" fill="#00ff66" d="M390.55 241.40 L390.16 242.90 L390.07 244.40 L390.01 245.90 L389.98 247.40 L389.93 248.90 L389.83 250.40 L389.70 251.90 L389.54 253.40 L389.37 254.90 L389.20 256.40 L389.01 257.90 L388.80 259.40 L388.59 260.90 L388.35 262.40 L388.10 263.90 L387.84 265.40 L387.58 266.90 L387.33 268.40 L387.08 269.90 L386.83 271.40 L386.58 272.90 L386.34 274.40 L386.09 275.90 L385.84 277.40 L385.58 278.90 L385.31 280.40 L385.05 281.90 L384.79 283.40 L384.53 284.90 L384.27 286.40 L384.01 287.90 L383.73 289.40 L383.43 290.90 L383.09 292.40 L382.71 293.90 L382.32 295.40 L381.93 296.90 L381.55 298.40 L381.16 299.90 L380.78 301.40 L380.40 302.90 L380.02 304.40 L379.64 305.90 L379.26 307.40 L378.87 308.90 L378.50 310.40 L378.13 311.90 L377.74 313.40 L377.34 314.90 L376.90 316.40 L376.45 317.90 L375.99 319.40 L375.54 320.90 L375.09 322.40 L374.65 323.90 L374.20 325.40 L373.76 326.90 L373.33 328.40 L372.89 329.90 L372.42 331.40 L371.85 332.90 L371.34 334.40 L371.00 335.90 L370.62 337.40 L369.98 338.90 L369.66 340.40 L369.51 341.90 L369.40 343.40 L369.35 344.90 L369.35 346.40 L369.35 347.90 L369.35 349.40 L369.35 350.90 L369.35 352.40 L369.35 353.90 L369.35 355.40 L369.35 356.90 L369.35 358.40 L369.35 359.90 L369.35 361.40 L369.35 362.90 L369.35 364.40 L369.35 365.90 L369.35 367.40 L369.35 368.90 L369.35 370.40 L369.35 371.90 L369.35 373.40 L369.39 374.90 L369.53 376.40 L369.72 377.90 L370.01 379.40 L370.30 380.90 L370.62 382.40 L371.05 383.90 L371.58 385.40 L372.03 386.90 L372.50 388.40 L373.12 389.90 L373.88 391.40 L374.71 392.90 L375.55 394.40 L376.35 395.90 L377.16 397.40 L377.99 398.90 L378.87 400.40 L379.82 401.90 L380.82 403.40 L381.82 404.90 L382.76 406.40 L383.65 407.90 L384.45 409.30 L400.85 409.30 L401.65 407.90 L402.54 406.40 L403.48 404.90 L404.48 403.40 L405.48 401.90 L406.43 400.40 L407.31 398.90 L408.14 397.40 L408.95 395.90 L409.75 394.40 L410.59 392.90 L411.42 391.40 L412.18 389.90 L412.80 388.40 L413.27 386.90 L413.72 385.40 L414.25 383.90 L414.68 382.40 L415.00 380.90 L415.29 379.40 L415.58 377.90 L415.77 376.40 L415.91 374.90 L415.95 373.40 L415.95 371.90 L415.95 370.40 L415.95 368.90 L415.95 367.40 L415.95 365.90 L415.95 364.40 L415.95 362.90 L415.95 361.40 L415.95 359.90 L415.95 358.40 L415.95 356.90 L415.95 355.40 L415.95 353.90 L415.95 352.40 L415.95 350.90 L415.95 349.40 L415.95 347.90 L415.95 346.40 L415.95 344.90 L415.90 343.40 L415.79 341.90 L415.64 340.40 L415.32 338.90 L414.68 337.40 L414.30 335.90 L413.96 334.40 L413.45 332.90 L412.88 331.40 L412.41 329.90 L411.97 328.40 L411.54 326.90 L411.10 325.40 L410.65 323.90 L410.21 322.40 L409.76 320.90 L409.31 319.40 L408.85 317.90 L408.40 316.40 L407.96 314.90 L407.56 313.40 L407.17 311.90 L406.80 310.40 L406.43 308.90 L406.04 307.40 L405.66 305.90 L405.28 304.40 L404.90 302.90 L404.52 301.40 L404.14 299.90 L403.75 298.40 L403.37 296.90 L402.98 295.40 L402.59 293.90 L402.21 292.40 L401.87 290.90 L401.57 289.40 L401.29 287.90 L401.03 286.40 L400.77 284.90 L400.51 283.40 L400.25 281.90 L399.99 280.40 L399.72 278.90 L399.46 277.40 L399.21 275.90 L398.96 274.40 L398.72 272.90 L398.47 271.40 L398.22 269.90 L397.97 268.40 L397.72 266.90 L397.46 265.40 L397.20 263.90 L396.95 262.40 L396.71 260.90 L396.50 259.40 L396.29 257.90 L396.10 256.40 L395.93 254.90 L395.76 253.40 L395.60 251.90 L395.47 250.40 L395.37 248.90 L395.32 247.40 L395.29 245.90 L395.23 244.40 L395.14 242.90 L394.75 241.40Z"/>
<line class="wh" x1="392.65" y1="248.00" x2="392.65" y2="409.30"/>
<rect class="bx" x="391.00" y="325.90" width="4.00" height="51.80"/>
<circle class="md" cx="393.00" cy="350.90" r="2.15"/>
<path class="vi" fill="#00ff66" d="M565.60 254.00 L565.55 255.50 L565.51 257.00 L565.47 258.50 L565.43 260.00 L565.40 261.50 L565.37 263.00 L565.35 264.50 L565.32 266.00 L565.29 267.50 L565.25 269.00 L565.21 270.50 L565.17 272.00 L565.13 273.50 L565.10 275.00 L565.06 276.50 L565.02 278.00 L564.95 279.50 L564.85 281.00 L564.72 282.50 L564.57 284.00 L564.39 285.50 L564.17 287.00 L563.92 288.50 L563.68 290.00 L563.44 291.50 L563.20 293.00 L562.96 294.50 L562.75 296.00 L562.58 297.50 L562.26 299.00 L561.77 300.50 L561.27 302.00 L560.77 303.50 L560.24 305.00 L559.71 306.50 L559.14 308.00 L558.51 309.50 L557.78 311.00 L556.97 312.50 L556.12 314.00 L555.28 315.50 L554.42 317.00 L553.54 318.50 L552.66 320.00 L551.80 321.50 L550.92 323.00 L550.06 324.50 L549.25 326.00 L548.52 327.50 L547.82 329.00 L547.18 330.50 L546.58 332.00 L546.01 333.50 L545.47 335.00 L544.98 336.50 L544.58 338.00 L544.23 339.50 L543.92 341.00 L543.68 342.50 L543.51 344.00 L543.38 345.50 L543.31 347.00 L543.33 348.50 L543.47 350.00 L543.67 351.50 L543.99 353.00 L544.50 354.50 L545.12 356.00 L545.74 357.50 L546.39 359.00 L547.09 360.50 L547.80 362.00 L548.47 363.50 L549.12 365.00 L549.76 366.50 L550.38 368.00 L550.97 369.50 L551.54 371.00 L552.09 372.50 L552.68 374.00 L553.33 375.50 L554.04 377.00 L554.75 378.50 L555.42 380.00 L556.00 381.50 L556.53 383.00 L557.06 384.50 L557.62 386.00 L558.22 387.50 L558.84 389.00 L559.46 390.50 L560.05 392.00 L560.63 393.50 L561.19 395.00 L561.73 396.50 L562.24 398.00 L562.74 399.50 L563.21 401.00 L563.60 402.50 L563.93 404.00 L564.23 405.50 L564.48 407.00 L564.69 408.50 L564.86 410.00 L565.01 411.50 L565.13 413.00 L565.24 414.50 L565.33 416.00 L565.40 417.30 L567.80 417.30 L567.87 416.00 L567.96 414.50 L568.07 413.00 L568.19 411.50 L568.34 410.00 L568.51 408.50 L568.72 407.00 L568.97 405.50 L569.27 404.00 L569.60 402.50 L569.99 401.00 L570.46 399.50 L570.96 398.00 L571.47 396.50 L572.01 395.00 L572.57 393.50 L573.15 392.00 L573.74 390.50 L574.36 389.00 L574.98 387.50 L575.58 386.00 L576.14 384.50 L576.67 383.00 L577.20 381.50 L577.78 380.00 L578.45 378.50 L579.16 377.00 L579.87 375.50 L580.52 374.00 L581.11 372.50 L581.66 371.00 L582.23 369.50 L582.82 368.00 L583.44 366.50 L584.08 365.00 L584.73 363.50 L585.40 362.00 L586.11 360.50 L586.81 359.00 L587.46 357.50 L588.08 356.00 L588.70 354.50 L589.21 353.00 L589.53 351.50 L589.73 350.00 L589.87 348.50 L589.89 347.00 L589.82 345.50 L589.69 344.00 L589.52 342.50 L589.28 341.00 L588.97 339.50 L588.62 338.00 L588.22 336.50 L587.73 335.00 L587.19 333.50 L586.62 332.00 L586.02 330.50 L585.38 329.00 L584.68 327.50 L583.95 326.00 L583.14 324.50 L582.28 323.00 L581.40 321.50 L580.54 320.00 L579.66 318.50 L578.78 317.00 L577.92 315.50 L577.08 314.00 L576.23 312.50 L575.42 311.00 L574.69 309.50 L574.06 308.00 L573.49 306.50 L572.96 305.00 L572.43 303.50 L571.93 302.00 L571.43 300.50 L570.94 299.00 L570.62 297.50 L570.45 296.00 L570.24 294.50 L570.00 293.00 L569.76 291.50 L569.52 290.00 L569.28 288.50 L569.03 287.00 L568.81 285.50 L568.63 284.00 L568.48 282.50 L568.35 281.00 L568.25 279.50 L568.18 278.00 L568.14 276.50 L568.10 275.00 L568.07 273.50 L568.03 272.00 L567.99 270.50 L567.95 269.00 L567.91 267.50 L567.88 266.00 L567.85 264.50 L567.83 263.00 L567.80 261.50 L567.77 260.00 L567.73 258.50 L567.69 257.00 L567.65 255.50 L567.60 254.00Z"/>
<line class="wh" x1="566.50" y1="276.20" x2="566.50" y2="417.30"/>
<rect class="bx" x="565.00" y="330.30" width="3.20" height="36.60"/>
<circle class="md" cx="566.60" cy="350.80" r="2.15"/>
<path class="vi" fill="#00ff66" d="M623.95 270.20 L623.88 271.70 L623.79 273.20 L623.68 274.70 L623.56 276.20 L623.42 277.70 L623.24 279.20 L623.03 280.70 L622.82 282.20 L622.63 283.70 L622.47 285.20 L622.31 286.70 L622.13 288.20 L621.90 289.70 L621.61 291.20 L621.28 292.70 L620.92 294.20 L620.55 295.70 L620.15 297.20 L619.72 298.70 L619.25 300.20 L618.72 301.70 L618.13 303.20 L617.51 304.70 L616.87 306.20 L616.19 307.70 L615.48 309.20 L614.77 310.70 L614.08 312.20 L613.39 313.70 L612.67 315.20 L611.90 316.70 L610.93 318.20 L609.85 319.70 L608.96 321.20 L608.14 322.70 L607.39 324.20 L606.72 325.70 L606.13 327.20 L605.58 328.70 L605.08 330.20 L604.61 331.70 L604.15 333.20 L603.72 334.70 L603.36 336.20 L603.10 337.70 L602.85 339.20 L602.65 340.70 L602.55 342.20 L602.56 343.70 L602.57 345.20 L602.61 346.70 L602.65 348.20 L602.77 349.70 L603.01 351.20 L603.31 352.70 L603.61 354.20 L603.95 355.70 L604.34 357.20 L604.78 358.70 L605.24 360.20 L605.76 361.70 L606.32 363.20 L606.92 364.70 L607.54 366.20 L608.21 367.70 L608.91 369.20 L609.62 370.70 L610.32 372.20 L611.04 373.70 L611.75 375.20 L612.46 376.70 L613.17 378.20 L613.87 379.70 L614.57 381.20 L615.25 382.70 L615.94 384.20 L616.62 385.70 L617.27 387.20 L617.88 388.70 L618.44 390.20 L618.98 391.70 L619.48 393.20 L619.95 394.70 L620.40 396.20 L620.81 397.70 L621.22 399.20 L621.61 400.70 L621.99 402.20 L622.36 403.70 L622.72 405.20 L622.95 406.20 L628.75 406.20 L628.98 405.20 L629.34 403.70 L629.71 402.20 L630.09 400.70 L630.48 399.20 L630.89 397.70 L631.30 396.20 L631.75 394.70 L632.22 393.20 L632.72 391.70 L633.26 390.20 L633.82 388.70 L634.43 387.20 L635.08 385.70 L635.76 384.20 L636.45 382.70 L637.13 381.20 L637.83 379.70 L638.53 378.20 L639.24 376.70 L639.95 375.20 L640.66 373.70 L641.38 372.20 L642.08 370.70 L642.79 369.20 L643.49 367.70 L644.16 366.20 L644.78 364.70 L645.38 363.20 L645.94 361.70 L646.46 360.20 L646.92 358.70 L647.36 357.20 L647.75 355.70 L648.09 354.20 L648.39 352.70 L648.69 351.20 L648.93 349.70 L649.05 348.20 L649.09 346.70 L649.13 345.20 L649.14 343.70 L649.15 342.20 L649.05 340.70 L648.85 339.20 L648.60 337.70 L648.34 336.20 L647.98 334.70 L647.55 333.20 L647.09 331.70 L646.62 330.20 L646.12 328.70 L645.57 327.20 L644.98 325.70 L644.31 324.20 L643.56 322.70 L642.74 321.20 L641.85 319.70 L640.77 318.20 L639.80 316.70 L639.03 315.20 L638.31 313.70 L637.62 312.20 L636.93 310.70 L636.22 309.20 L635.51 307.70 L634.83 306.20 L634.19 304.70 L633.57 303.20 L632.98 301.70 L632.45 300.20 L631.98 298.70 L631.55 297.20 L631.15 295.70 L630.78 294.20 L630.42 292.70 L630.09 291.20 L629.80 289.70 L629.57 288.20 L629.39 286.70 L629.23 285.20 L629.07 283.70 L628.88 282.20 L628.67 280.70 L628.46 279.20 L628.28 277.70 L628.14 276.20 L628.02 274.70 L627.91 273.20 L627.82 271.70 L627.75 270.20Z"/>
<line class="wh" x1="626.00" y1="270.20" x2="626.00" y2="406.20"/>
<rect class="bx" x="624.00" y="327.10" width="4.00" height="39.20"/>
<circle class="md" cx="626.00" cy="347.90" r="2.15"/>
<text class="xl" x="87.80" y="450.00" style="letter-spacing:0.9px">Ind.</text>
<text class="xl" x="148.60" y="450.00">Jap.</text>
<text class="xl" x="324.10" y="450.00" style="letter-spacing:0.9px">Ind.</text>
<text class="xl" x="380.50" y="450.00">Jap.</text>
<text class="xl" x="555.20" y="450.00" style="letter-spacing:0.9px">Ind.</text>
<text class="xl" x="616.40" y="450.00">Jap.</text>
</svg></body></html>
